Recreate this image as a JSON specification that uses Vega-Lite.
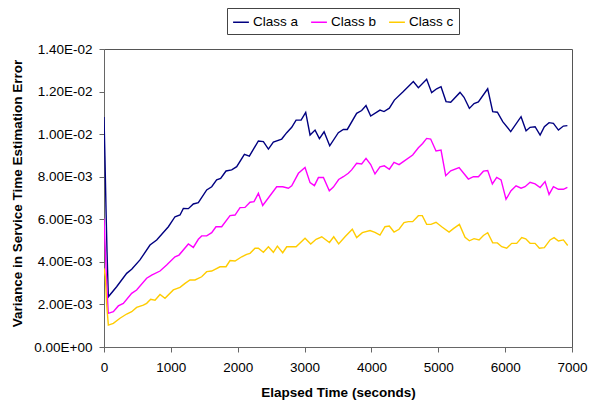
{
  "$schema": "https://vega.github.io/schema/vega-lite/v6.json",
  "width": 468,
  "height": 298,
  "autosize": {"type": "none"},
  "padding": {"left": 104, "top": 49, "right": 17, "bottom": 58},
  "background": "white",
  "config": {
    "font": "Liberation Sans",
    "view": {"stroke": "#555555", "strokeWidth": 1},
    "axis": {"grid": false, "labelColor": "black", "titleColor": "black", "labelFont": "Liberation Sans", "titleFont": "Liberation Sans", "labelFontSize": 13.5, "titleFontSize": 13.5, "titleFontWeight": "bold", "domainColor": "#666666", "tickColor": "#666666"}
  },
  "datasets": {
    "d": [
      {"c": "Class a", "t": 0, "v": 0.0108}, {"c": "Class a", "t": 15, "v": 0.0088}, {"c": "Class a", "t": 30, "v": 0.0065}, {"c": "Class a", "t": 45, "v": 0.0045}, {"c": "Class a", "t": 65, "v": 0.00236},
      {"c": "Class a", "t": 189, "v": 0.00283}, {"c": "Class a", "t": 339, "v": 0.00346}, {"c": "Class a", "t": 414, "v": 0.00365}, {"c": "Class a", "t": 538, "v": 0.00409}, {"c": "Class a", "t": 688, "v": 0.00479},
      {"c": "Class a", "t": 788, "v": 0.00503}, {"c": "Class a", "t": 963, "v": 0.00565}, {"c": "Class a", "t": 1062, "v": 0.00612}, {"c": "Class a", "t": 1137, "v": 0.0062}, {"c": "Class a", "t": 1187, "v": 0.00651},
      {"c": "Class a", "t": 1262, "v": 0.0065}, {"c": "Class a", "t": 1336, "v": 0.00672}, {"c": "Class a", "t": 1411, "v": 0.00678}, {"c": "Class a", "t": 1536, "v": 0.00738}, {"c": "Class a", "t": 1611, "v": 0.00753},
      {"c": "Class a", "t": 1685, "v": 0.00785}, {"c": "Class a", "t": 1745, "v": 0.00792}, {"c": "Class a", "t": 1825, "v": 0.00827}, {"c": "Class a", "t": 1910, "v": 0.00832}, {"c": "Class a", "t": 1985, "v": 0.00847},
      {"c": "Class a", "t": 2100, "v": 0.00905}, {"c": "Class a", "t": 2174, "v": 0.00897}, {"c": "Class a", "t": 2309, "v": 0.00968}, {"c": "Class a", "t": 2384, "v": 0.00965}, {"c": "Class a", "t": 2459, "v": 0.0093},
      {"c": "Class a", "t": 2533, "v": 0.00963}, {"c": "Class a", "t": 2658, "v": 0.00977}, {"c": "Class a", "t": 2733, "v": 0.01007}, {"c": "Class a", "t": 2808, "v": 0.01032}, {"c": "Class a", "t": 2873, "v": 0.01066},
      {"c": "Class a", "t": 2948, "v": 0.01066}, {"c": "Class a", "t": 3017, "v": 0.01102}, {"c": "Class a", "t": 3082, "v": 0.00996}, {"c": "Class a", "t": 3157, "v": 0.01019}, {"c": "Class a", "t": 3222, "v": 0.00979},
      {"c": "Class a", "t": 3292, "v": 0.01011}, {"c": "Class a", "t": 3376, "v": 0.00945}, {"c": "Class a", "t": 3505, "v": 0.01007}, {"c": "Class a", "t": 3580, "v": 0.01022}, {"c": "Class a", "t": 3639, "v": 0.01022},
      {"c": "Class a", "t": 3779, "v": 0.01098}, {"c": "Class a", "t": 3854, "v": 0.01111}, {"c": "Class a", "t": 3919, "v": 0.01134}, {"c": "Class a", "t": 3989, "v": 0.01085}, {"c": "Class a", "t": 4128, "v": 0.01113},
      {"c": "Class a", "t": 4188, "v": 0.01106}, {"c": "Class a", "t": 4268, "v": 0.01122}, {"c": "Class a", "t": 4343, "v": 0.0116}, {"c": "Class a", "t": 4477, "v": 0.012}, {"c": "Class a", "t": 4627, "v": 0.01247},
      {"c": "Class a", "t": 4702, "v": 0.01218}, {"c": "Class a", "t": 4826, "v": 0.01258}, {"c": "Class a", "t": 4901, "v": 0.01195}, {"c": "Class a", "t": 4976, "v": 0.01213}, {"c": "Class a", "t": 5041, "v": 0.01223},
      {"c": "Class a", "t": 5116, "v": 0.01153}, {"c": "Class a", "t": 5186, "v": 0.0115}, {"c": "Class a", "t": 5325, "v": 0.01196}, {"c": "Class a", "t": 5385, "v": 0.01173}, {"c": "Class a", "t": 5465, "v": 0.01121},
      {"c": "Class a", "t": 5535, "v": 0.01144}, {"c": "Class a", "t": 5600, "v": 0.01151}, {"c": "Class a", "t": 5739, "v": 0.01213}, {"c": "Class a", "t": 5814, "v": 0.01106}, {"c": "Class a", "t": 5884, "v": 0.01103},
      {"c": "Class a", "t": 5964, "v": 0.01059}, {"c": "Class a", "t": 6083, "v": 0.01012}, {"c": "Class a", "t": 6238, "v": 0.01082}, {"c": "Class a", "t": 6313, "v": 0.01016}, {"c": "Class a", "t": 6373, "v": 0.01032},
      {"c": "Class a", "t": 6448, "v": 0.01035}, {"c": "Class a", "t": 6523, "v": 0.00996}, {"c": "Class a", "t": 6587, "v": 0.01035}, {"c": "Class a", "t": 6657, "v": 0.01054}, {"c": "Class a", "t": 6722, "v": 0.01051},
      {"c": "Class a", "t": 6797, "v": 0.01019}, {"c": "Class a", "t": 6871, "v": 0.01038}, {"c": "Class a", "t": 6931, "v": 0.0104},

      {"c": "Class b", "t": 0, "v": 0.00604}, {"c": "Class b", "t": 20, "v": 0.0045}, {"c": "Class b", "t": 40, "v": 0.003}, {"c": "Class b", "t": 64, "v": 0.00158}, {"c": "Class b", "t": 140, "v": 0.00166},
      {"c": "Class b", "t": 214, "v": 0.00193}, {"c": "Class b", "t": 289, "v": 0.00205}, {"c": "Class b", "t": 414, "v": 0.00252}, {"c": "Class b", "t": 488, "v": 0.00268}, {"c": "Class b", "t": 638, "v": 0.00323},
      {"c": "Class b", "t": 713, "v": 0.00338}, {"c": "Class b", "t": 838, "v": 0.00357}, {"c": "Class b", "t": 937, "v": 0.00385}, {"c": "Class b", "t": 1062, "v": 0.00424}, {"c": "Class b", "t": 1122, "v": 0.00432},
      {"c": "Class b", "t": 1262, "v": 0.00484}, {"c": "Class b", "t": 1336, "v": 0.00468}, {"c": "Class b", "t": 1411, "v": 0.00506}, {"c": "Class b", "t": 1461, "v": 0.00522}, {"c": "Class b", "t": 1536, "v": 0.00522},
      {"c": "Class b", "t": 1611, "v": 0.00537}, {"c": "Class b", "t": 1675, "v": 0.00565}, {"c": "Class b", "t": 1760, "v": 0.00565}, {"c": "Class b", "t": 1885, "v": 0.00617}, {"c": "Class b", "t": 1960, "v": 0.0062},
      {"c": "Class b", "t": 2035, "v": 0.00655}, {"c": "Class b", "t": 2109, "v": 0.00656}, {"c": "Class b", "t": 2184, "v": 0.0068}, {"c": "Class b", "t": 2244, "v": 0.00683}, {"c": "Class b", "t": 2309, "v": 0.00722},
      {"c": "Class b", "t": 2374, "v": 0.00665}, {"c": "Class b", "t": 2583, "v": 0.00753}, {"c": "Class b", "t": 2673, "v": 0.00753}, {"c": "Class b", "t": 2758, "v": 0.00746}, {"c": "Class b", "t": 2808, "v": 0.00757},
      {"c": "Class b", "t": 2908, "v": 0.00816}, {"c": "Class b", "t": 3007, "v": 0.00843}, {"c": "Class b", "t": 3082, "v": 0.00772}, {"c": "Class b", "t": 3147, "v": 0.00758}, {"c": "Class b", "t": 3207, "v": 0.00796},
      {"c": "Class b", "t": 3282, "v": 0.00796}, {"c": "Class b", "t": 3370, "v": 0.00734}, {"c": "Class b", "t": 3431, "v": 0.00751}, {"c": "Class b", "t": 3510, "v": 0.00787}, {"c": "Class b", "t": 3580, "v": 0.008},
      {"c": "Class b", "t": 3654, "v": 0.00816}, {"c": "Class b", "t": 3704, "v": 0.00832}, {"c": "Class b", "t": 3779, "v": 0.00863}, {"c": "Class b", "t": 3854, "v": 0.0086}, {"c": "Class b", "t": 3919, "v": 0.00886},
      {"c": "Class b", "t": 3989, "v": 0.00857}, {"c": "Class b", "t": 4053, "v": 0.00813}, {"c": "Class b", "t": 4128, "v": 0.00846}, {"c": "Class b", "t": 4193, "v": 0.00851}, {"c": "Class b", "t": 4268, "v": 0.00835},
      {"c": "Class b", "t": 4338, "v": 0.00867}, {"c": "Class b", "t": 4413, "v": 0.00857}, {"c": "Class b", "t": 4477, "v": 0.00871}, {"c": "Class b", "t": 4617, "v": 0.00902}, {"c": "Class b", "t": 4702, "v": 0.00936},
      {"c": "Class b", "t": 4766, "v": 0.00956}, {"c": "Class b", "t": 4826, "v": 0.0098}, {"c": "Class b", "t": 4886, "v": 0.00977}, {"c": "Class b", "t": 4966, "v": 0.00921}, {"c": "Class b", "t": 5041, "v": 0.00925},
      {"c": "Class b", "t": 5111, "v": 0.00805}, {"c": "Class b", "t": 5186, "v": 0.00828}, {"c": "Class b", "t": 5311, "v": 0.00843}, {"c": "Class b", "t": 5450, "v": 0.00789}, {"c": "Class b", "t": 5525, "v": 0.008},
      {"c": "Class b", "t": 5600, "v": 0.008}, {"c": "Class b", "t": 5675, "v": 0.00826}, {"c": "Class b", "t": 5739, "v": 0.00829}, {"c": "Class b", "t": 5809, "v": 0.00766}, {"c": "Class b", "t": 5874, "v": 0.00797},
      {"c": "Class b", "t": 5939, "v": 0.00785}, {"c": "Class b", "t": 6013, "v": 0.00694}, {"c": "Class b", "t": 6088, "v": 0.00734}, {"c": "Class b", "t": 6163, "v": 0.00757}, {"c": "Class b", "t": 6238, "v": 0.00746},
      {"c": "Class b", "t": 6298, "v": 0.00753}, {"c": "Class b", "t": 6373, "v": 0.00774}, {"c": "Class b", "t": 6448, "v": 0.00766}, {"c": "Class b", "t": 6523, "v": 0.00749}, {"c": "Class b", "t": 6597, "v": 0.00777},
      {"c": "Class b", "t": 6657, "v": 0.00717}, {"c": "Class b", "t": 6722, "v": 0.00753}, {"c": "Class b", "t": 6797, "v": 0.00741}, {"c": "Class b", "t": 6871, "v": 0.00741}, {"c": "Class b", "t": 6931, "v": 0.0075},

      {"c": "Class c", "t": 0, "v": 0.0037}, {"c": "Class c", "t": 20, "v": 0.0033}, {"c": "Class c", "t": 40, "v": 0.002}, {"c": "Class c", "t": 65, "v": 0.00103}, {"c": "Class c", "t": 140, "v": 0.00111},
      {"c": "Class c", "t": 239, "v": 0.00135}, {"c": "Class c", "t": 339, "v": 0.00155}, {"c": "Class c", "t": 414, "v": 0.00166}, {"c": "Class c", "t": 488, "v": 0.00186}, {"c": "Class c", "t": 588, "v": 0.00197},
      {"c": "Class c", "t": 638, "v": 0.00205}, {"c": "Class c", "t": 698, "v": 0.00224}, {"c": "Class c", "t": 763, "v": 0.0022}, {"c": "Class c", "t": 838, "v": 0.00247}, {"c": "Class c", "t": 912, "v": 0.00229},
      {"c": "Class c", "t": 1037, "v": 0.00268}, {"c": "Class c", "t": 1137, "v": 0.0028}, {"c": "Class c", "t": 1212, "v": 0.00299}, {"c": "Class c", "t": 1286, "v": 0.00315}, {"c": "Class c", "t": 1361, "v": 0.00315},
      {"c": "Class c", "t": 1461, "v": 0.0033}, {"c": "Class c", "t": 1536, "v": 0.00354}, {"c": "Class c", "t": 1611, "v": 0.00357}, {"c": "Class c", "t": 1735, "v": 0.00377}, {"c": "Class c", "t": 1825, "v": 0.00377},
      {"c": "Class c", "t": 1885, "v": 0.00406}, {"c": "Class c", "t": 1960, "v": 0.00404}, {"c": "Class c", "t": 2060, "v": 0.00424}, {"c": "Class c", "t": 2134, "v": 0.00435}, {"c": "Class c", "t": 2184, "v": 0.0044},
      {"c": "Class c", "t": 2259, "v": 0.00464}, {"c": "Class c", "t": 2309, "v": 0.00464}, {"c": "Class c", "t": 2384, "v": 0.00445}, {"c": "Class c", "t": 2459, "v": 0.00471}, {"c": "Class c", "t": 2533, "v": 0.00445},
      {"c": "Class c", "t": 2593, "v": 0.00474}, {"c": "Class c", "t": 2673, "v": 0.00443}, {"c": "Class c", "t": 2733, "v": 0.00471}, {"c": "Class c", "t": 2873, "v": 0.00471}, {"c": "Class c", "t": 3007, "v": 0.00511},
      {"c": "Class c", "t": 3092, "v": 0.00484}, {"c": "Class c", "t": 3172, "v": 0.00506}, {"c": "Class c", "t": 3257, "v": 0.00518}, {"c": "Class c", "t": 3372, "v": 0.00491}, {"c": "Class c", "t": 3436, "v": 0.00518},
      {"c": "Class c", "t": 3510, "v": 0.00484}, {"c": "Class c", "t": 3605, "v": 0.00518}, {"c": "Class c", "t": 3714, "v": 0.00553}, {"c": "Class c", "t": 3779, "v": 0.00514}, {"c": "Class c", "t": 3864, "v": 0.00537},
      {"c": "Class c", "t": 3979, "v": 0.00547}, {"c": "Class c", "t": 4053, "v": 0.00539}, {"c": "Class c", "t": 4128, "v": 0.00526}, {"c": "Class c", "t": 4203, "v": 0.00565}, {"c": "Class c", "t": 4268, "v": 0.00568},
      {"c": "Class c", "t": 4338, "v": 0.0054}, {"c": "Class c", "t": 4413, "v": 0.00553}, {"c": "Class c", "t": 4487, "v": 0.00584}, {"c": "Class c", "t": 4552, "v": 0.00589}, {"c": "Class c", "t": 4617, "v": 0.00589},
      {"c": "Class c", "t": 4702, "v": 0.00617}, {"c": "Class c", "t": 4761, "v": 0.00617}, {"c": "Class c", "t": 4826, "v": 0.00576}, {"c": "Class c", "t": 4891, "v": 0.00576}, {"c": "Class c", "t": 4966, "v": 0.00586},
      {"c": "Class c", "t": 5051, "v": 0.00565}, {"c": "Class c", "t": 5161, "v": 0.0054}, {"c": "Class c", "t": 5226, "v": 0.00556}, {"c": "Class c", "t": 5316, "v": 0.00576}, {"c": "Class c", "t": 5400, "v": 0.00515},
      {"c": "Class c", "t": 5465, "v": 0.00499}, {"c": "Class c", "t": 5535, "v": 0.00509}, {"c": "Class c", "t": 5610, "v": 0.00503}, {"c": "Class c", "t": 5675, "v": 0.00524}, {"c": "Class c", "t": 5739, "v": 0.00537},
      {"c": "Class c", "t": 5814, "v": 0.00489}, {"c": "Class c", "t": 5884, "v": 0.00489}, {"c": "Class c", "t": 5949, "v": 0.00471}, {"c": "Class c", "t": 6023, "v": 0.00464}, {"c": "Class c", "t": 6098, "v": 0.00487},
      {"c": "Class c", "t": 6173, "v": 0.00487}, {"c": "Class c", "t": 6248, "v": 0.00514}, {"c": "Class c", "t": 6308, "v": 0.00508}, {"c": "Class c", "t": 6373, "v": 0.00487}, {"c": "Class c", "t": 6448, "v": 0.00487},
      {"c": "Class c", "t": 6512, "v": 0.00464}, {"c": "Class c", "t": 6587, "v": 0.00467}, {"c": "Class c", "t": 6672, "v": 0.00503}, {"c": "Class c", "t": 6732, "v": 0.00514}, {"c": "Class c", "t": 6797, "v": 0.00498},
      {"c": "Class c", "t": 6871, "v": 0.00503}, {"c": "Class c", "t": 6936, "v": 0.00477}
    ]
  },
  "data": {"name": "d"},
  "mark": {"type": "line", "strokeWidth": 1.4, "clip": true},
  "encoding": {
    "x": {
      "field": "t", "type": "quantitative",
      "scale": {"domain": [0, 7000], "nice": false},
      "axis": {"values": [0, 1000, 2000, 3000, 4000, 5000, 6000, 7000], "format": "d", "title": "Elapsed Time (seconds)", "tickSize": 5, "labelPadding": 8, "titlePadding": 12, "labelFlush": false}
    },
    "y": {
      "field": "v", "type": "quantitative",
      "scale": {"domain": [0, 0.014], "nice": false},
      "axis": {"values": [0, 0.002, 0.004, 0.006, 0.008, 0.01, 0.012, 0.014], "labelExpr": "replace(replace(format(datum.value, '.2e'), 'e-', 'E-0'), 'e+', 'E+0')", "title": "Variance in Service Time Estimation Error", "titleY": 144, "tickSize": 5, "labelPadding": 7, "titlePadding": 9, "labelFlush": false}
    },
    "color": {
      "field": "c", "type": "nominal",
      "scale": {"domain": ["Class a", "Class b", "Class c"], "range": ["#000080", "#FF00FF", "#FFCC00"]},
      "legend": {"orient": "none", "direction": "horizontal", "legendX": 123, "legendY": -41, "title": null, "symbolType": "stroke", "symbolSize": 250, "symbolStrokeWidth": 1.5, "strokeColor": "#444444", "padding": 5, "labelFontSize": 13.5, "labelColor": "black", "labelOffset": 3, "columnPadding": 9}
    }
  }
}
